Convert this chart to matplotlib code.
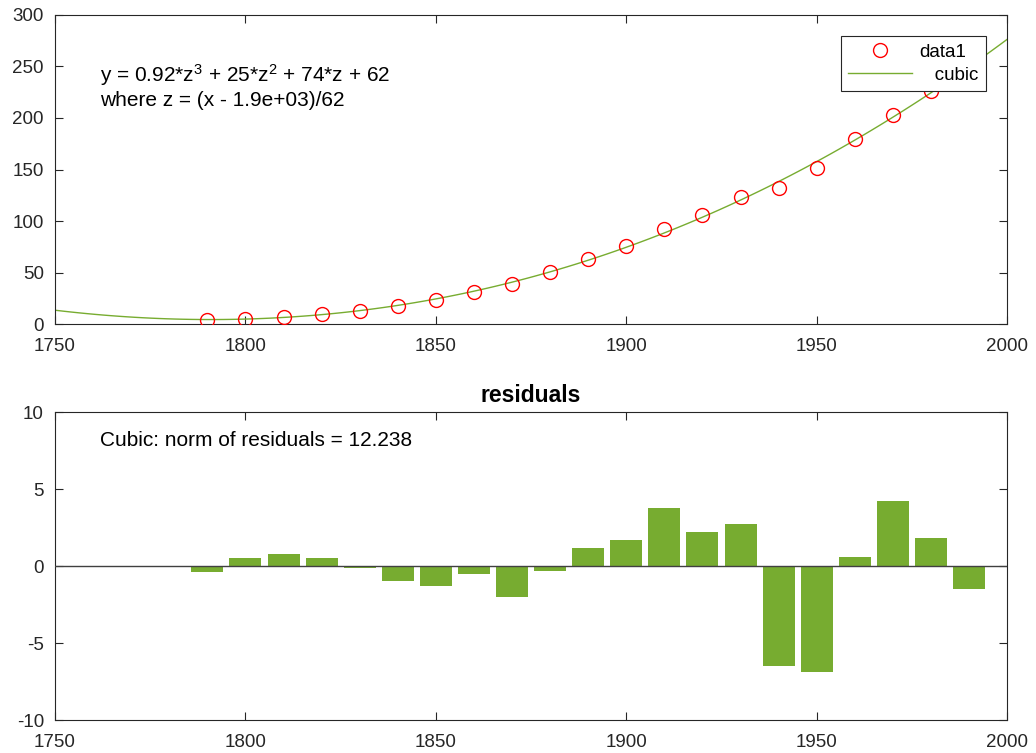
import numpy as np
import matplotlib
matplotlib.use("Agg")
import matplotlib.pyplot as plt

plt.rcParams["font.family"] = ["Liberation Sans", "DejaVu Sans"]
plt.rcParams["axes.unicode_minus"] = False
plt.rcParams["mathtext.default"] = "regular"

# US census population (millions)
years = [1790, 1800, 1810, 1820, 1830, 1840, 1850, 1860, 1870, 1880, 1890,
         1900, 1910, 1920, 1930, 1940, 1950, 1960, 1970, 1980, 1990]
pop = [3.929, 5.308, 7.240, 9.638, 12.866, 17.069, 23.192, 31.443, 38.558,
       50.189, 62.980, 76.212, 92.228, 106.021, 123.203, 132.165, 151.326,
       179.323, 203.302, 226.542, 248.710]

# residuals
resid = [-0.4, 0.5, 0.8, 0.5, -0.15, -1.0, -1.3, -0.5, -2.0, -0.3, 1.2,
         1.7, 3.8, 2.2, 2.7, -6.5, -6.9, 0.6, 4.2, 1.8, -1.5]

GREEN = "#77AC30"
INK = "#262626"

years_a = np.array(years, dtype=float)
mu, sd = years_a.mean(), years_a.std(ddof=1)
coef = np.polyfit((years_a - mu) / sd, pop, 3)
x_fit = np.linspace(1750, 2000, 120)
y_fit = np.polyval(coef, (x_fit - mu) / sd)

fig = plt.figure(figsize=(10.36, 7.53), dpi=100)
ax1 = fig.add_axes([0.0531, 0.5697, 0.919, 0.4104])
ax2 = fig.add_axes([0.0531, 0.0438, 0.919, 0.409])

# ── top: data + cubic fit ────────────────────────────────────────────
ax1.plot(years, pop, "o", mfc="none", mec="red", ms=10, mew=1.0, label="data1", zorder=3)
ax1.plot(x_fit, y_fit, color=GREEN, lw=1.0, label="   cubic", zorder=2)
ax1.set_xlim(1750, 2000)
ax1.set_ylim(0, 300)
ax1.set_yticks(range(0, 301, 50))
ax1.text(0.047, 0.77,
         "y = 0.92*z$^{3}$ + 25*z$^{2}$ + 74*z + 62\nwhere z = (x - 1.9e+03)/62",
         transform=ax1.transAxes, fontsize=15, color="black", va="center",
         linespacing=1.2)
leg = ax1.legend(loc="upper right", bbox_to_anchor=(0.978, 0.932), fontsize=13.5,
                 frameon=True, fancybox=False, edgecolor=INK, framealpha=1,
                 handlelength=3.4, handletextpad=0.4, borderpad=0.4,
                 labelspacing=0.33, borderaxespad=0)
leg.get_frame().set_linewidth(0.8)

# ── bottom: residuals ───────────────────────────────────────────────
ax2.bar(years, resid, width=8.4, color=GREEN, edgecolor="none", zorder=2)
ax2.axhline(0, color="#404040", lw=1.0, zorder=3)
ax2.set_xlim(1750, 2000)
ax2.set_ylim(-10, 10)
ax2.set_yticks([-10, -5, 0, 5, 10])
ax2.set_title("residuals", fontsize=16.5, fontweight="bold", pad=7)
ax2.text(0.047, 0.909, "Cubic: norm of residuals = 12.238",
         transform=ax2.transAxes, fontsize=15, va="center")

for ax in (ax1, ax2):
    ax.set_xticks(range(1750, 2001, 50))
    ax.tick_params(direction="in", top=True, right=True, length=6, width=0.8,
                   colors=INK, labelsize=13.5, labelcolor=INK)
    ax.tick_params(axis="x", pad=10)
    ax.tick_params(axis="y", pad=8)
    for s in ax.spines.values():
        s.set_color(INK)
        s.set_linewidth(0.8)

fig.savefig("out.png", dpi=100)
